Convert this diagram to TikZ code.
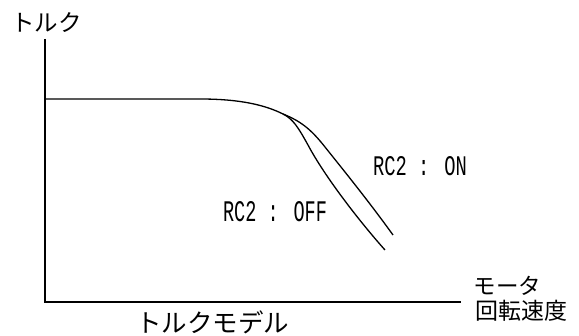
\documentclass[tikz,border=0pt]{standalone}
\usepackage{fontspec}
\newfontfamily\jp{Noto Sans CJK JP}
\newfontfamily\mono{Liberation Mono}
\tikzset{
  axis/.style={line width=1.8pt},
  curve/.style={line width=1.3pt},
  lbl/.style={inner sep=0pt, font=\jp},
  mlbl/.style={inner sep=0pt, font=\mono},
}
\begin{document}
\begin{tikzpicture}[x=1pt,y=-1pt]
\useasboundingbox (0,0) rectangle (579,336);
\coordinate (o) at (45,302);
\coordinate (ytop) at (45,39);
\coordinate (xend) at (461,302);
\draw[axis] (ytop) -- (o) -- (xend);
\coordinate (s) at (45,99);
\coordinate (j) at (283,114);
\coordinate (on) at (393,235);
\coordinate (off) at (385,250);
\draw[curve] (s) -- (200,99) .. controls (240,99) and (265,105) .. (j);
\draw[curve] (j) .. controls (300,121) and (310,128) .. (325,147) .. controls (345,172) and (370,203) .. (on);
\draw[curve] (j) .. controls (293,119) and (298,127) .. (308,145) .. controls (325,177) and (360,222) .. (off);
\node[lbl] (ylab) at (46.5,23) {\fontsize{23.5pt}{23.5pt}\selectfont トルク};
\node[lbl] (title) at (212.5,322) {\fontsize{25.5pt}{25.5pt}\selectfont トルクモデル};
\node[lbl] (x1) at (507.5,285.5) {\fontsize{22.5pt}{22.5pt}\selectfont モータ};
\node[lbl] (x2) at (521.5,311) {\fontsize{23pt}{23pt}\selectfont 回転速度};
\node[mlbl] (lon) at (420,166.5) {\resizebox{94pt}{19pt}{RC2 : ON}};
\node[mlbl] (loff) at (275,212) {\resizebox{104pt}{20pt}{RC2 : OFF}};
\end{tikzpicture}
\end{document}
